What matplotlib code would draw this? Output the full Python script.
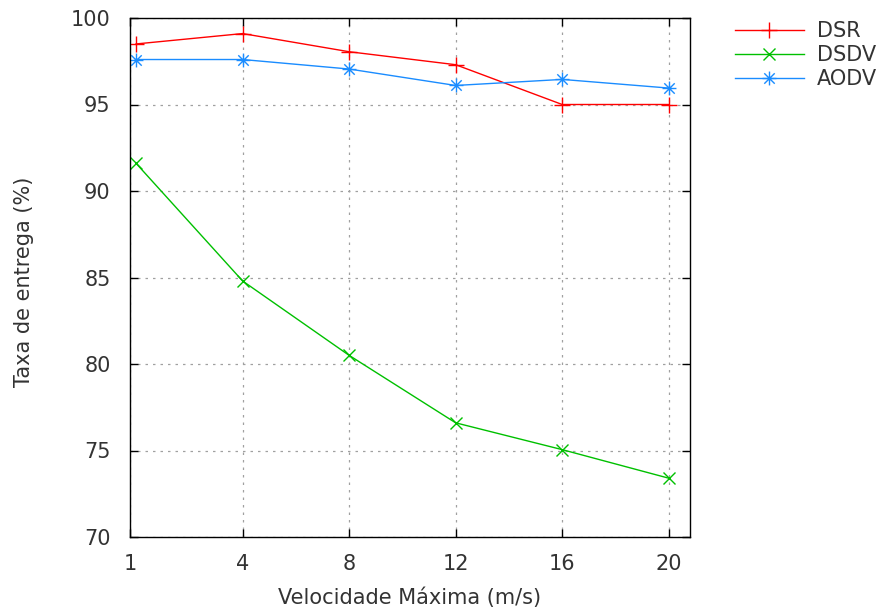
import matplotlib
matplotlib.use("Agg")
import matplotlib.pyplot as plt
from matplotlib.path import Path

categories = ["1", "4", "8", "12", "16", "20"]
dsr = [98.5, 99.1, 98.05, 97.3, 95.0, 95.0]
dsdv = [91.6, 84.8, 80.5, 76.6, 75.05, 73.4]
aodv = [97.6, 97.6, 97.05, 96.1, 96.45, 95.95]
series_names = ["DSR", "DSDV", "AODV"]
yticks = [70, 75, 80, 85, 90, 95, 100]

plt.rcParams['font.family'] = ['DejaVu Sans']
W, H = 886, 612
fig = plt.figure(figsize=(W / 100, H / 100), dpi=100)
L, R, T, B = 130, 690, 18, 537
ax = fig.add_axes([L / W, 1 - B / H, (R - L) / W, (B - T) / H])

star = Path([(-1, 0), (1, 0), (0, -1), (0, 1), (-0.75, -0.75), (0.75, 0.75), (-0.75, 0.75), (0.75, -0.75)],
            [Path.MOVETO, Path.LINETO] * 4)

x = list(range(len(categories)))
colors = ["#ff0000", "#00c000", "#1a8cff"]
markers = ["+", "x", star]
msizes = [11, 8, 10]
for vals, c, m, ms, name in zip([dsr, dsdv, aodv], colors, markers, msizes, series_names):
    ax.plot(x, vals, color=c, lw=1.0, marker=m, ms=ms, mew=1.0, mfc='none', label=name)

FS = 15
TC = '#333333'
ax.set_xlim(-0.057, 5.2)
ax.set_ylim(70, 100)
ax.set_xticks([-0.057] + x[1:])
ax.set_xticklabels(categories)
ax.set_yticks(yticks)
ax.grid(True, color="#a0a0a0", linestyle=(0, (2, 4)), lw=0.9)
ax.tick_params(direction='in', top=True, right=True, length=6, width=1, colors='black',
               labelcolor=TC, labelsize=FS)
ax.tick_params(axis='x', pad=12)
ax.tick_params(axis='y', pad=14)
for s in ax.spines.values():
    s.set_linewidth(1.0)
    s.set_color('black')

ax.set_xlabel("Velocidade Máxima (m/s)", fontsize=FS, color=TC, labelpad=10)
ax.set_ylabel("Taxa de entrega (%)", fontsize=FS, color=TC)
ax.yaxis.set_label_coords(-0.172, 0.492)

leg = ax.legend(loc='upper left', bbox_to_anchor=(735 / W, 1 - 21 / H), bbox_transform=fig.transFigure,
                frameon=False, fontsize=FS, handlelength=3.3, handletextpad=0.65,
                borderpad=0, borderaxespad=0, labelspacing=0.2)
for t in leg.get_texts():
    t.set_color(TC)

fig.savefig("out.png", dpi=100)
